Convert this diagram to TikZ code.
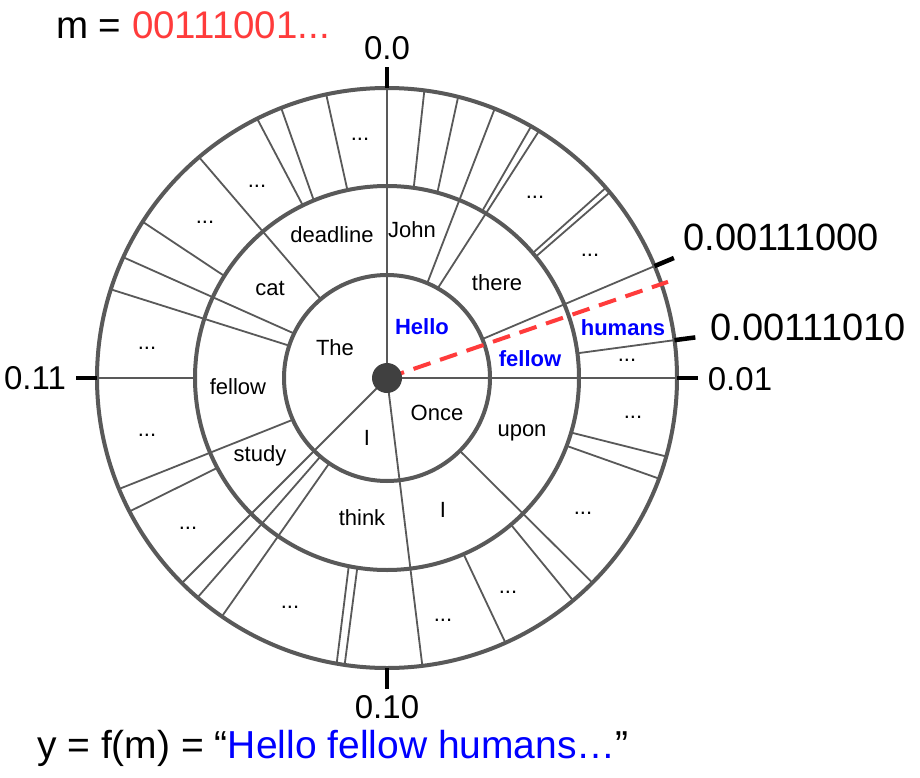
\documentclass[tikz,border=0pt]{standalone}
\usepackage{fontspec}
\setmainfont{Liberation Sans}
\definecolor{ringgray}{HTML}{595959}
\definecolor{mred}{HTML}{FF3B3B}
\definecolor{dotgray}{HTML}{404040}
\begin{document}
\begin{tikzpicture}[x=1pt,y=1pt,
  ring/.style={draw=ringgray,line width=4pt},
  spoke/.style={draw=ringgray,line width=1.8pt},
  tickmark/.style={draw=black,line width=4.5pt},
  lbl/.style={font=\fontsize{22}{25}\selectfont,inner sep=0pt},
  hl/.style={font=\fontsize{22}{25}\selectfont\bfseries,text=blue,inner sep=0pt},
  dotlbl/.style={font=\fontsize{22}{25}\selectfont,inner sep=0pt,anchor=base},
  ticklbl/.style={font=\fontsize{33}{38}\selectfont,inner sep=0pt},
  longlbl/.style={font=\fontsize{38}{42}\selectfont,inner sep=0pt},
]
\useasboundingbox (0,0) rectangle (920,-778);
\fill[white] (0,0) rectangle (920,-778);
\begin{scope}[shift={(387,-378)}]
  \coordinate (C) at (0,0);
  % spokes from the centre
  \foreach \a in {90,0,225,277} \draw[spoke] (C) -- (\a:290);
  % spokes from inner circle to outer circle: inner angle / outer angle
  \foreach \a/\b in {22.2/22.7,60.5/58.4,67/68.2,130/130.4,154.4/155.4,161.7/162.2,203.9/202.5,229.7/229.2,235.9/235.3,315/315.1}
    \draw[spoke] (\a:103) -- (\b:290);
  % spokes of the outer ring only
  \foreach \a/\b in {7.4/7.5,39.2/39.8,40.6/41,60.3/60.2,74.8/75.8,82/82.6,101.9/102.1,112.4/111.4,116/116.6,147.9/147.4,180/180,207.9/207.4,258.5/260,261.1/261.6,293.5/294.1,310.2/309.9,339.3/339.7,343.5/344.3}
    \draw[spoke] (\a:192) -- (\b:290);
  % rings
  \draw[ring] (C) circle[radius=103];
  \draw[ring] (C) circle[radius=192];
  \draw[ring] (C) circle[radius=290];
  % ticks
  \foreach \a in {90,0,180,270,22.7,7.5} \draw[tickmark] (\a:290) -- (\a:311);
  % red dashed line
  \coordinate (R) at (18.9:297);
  \draw[mred,line width=4pt,dash pattern=on 18pt off 10pt] (C) -- (R);
  \fill[dotgray] (C) circle[radius=15];
\end{scope}
% inner ring labels
\node[hl]  (hello)  at (422,-327) {Hello};
\node[lbl] (the)    at (335,-348) {The};
\node[lbl] (i1)     at (367,-438) {I};
\node[lbl] (once)   at (437,-413) {Once};
% middle ring labels
\node[lbl] (john)   at (412,-230) {John};
\node[lbl] (there)  at (497,-283) {there};
\node[hl]  (fellowb) at (530,-359) {fellow};
\node[lbl] (deadline) at (332,-235) {deadline};
\node[lbl] (cat)    at (270,-288) {cat};
\node[lbl] (fellow) at (238,-387) {fellow};
\node[lbl] (study)  at (260,-456) {study};
\node[lbl] (think)  at (362,-518) {think};
\node[lbl] (i2)     at (443,-510) {I};
\node[lbl] (upon)   at (522,-433) {upon};
% outer ring labels
\node[hl]  (humans) at (623,-328) {humans};
\foreach \x/\y [count=\i] in {360/140,257/187,205/222,147/348,147/435,188/528,290/607,443/620,508/592,583/513,633/417,627/360,590/255,535/197}
  \node[dotlbl] (d\i) at (\x,-\y-1) {...};
% scale labels
\node[ticklbl] (t0)  at (387,-48) {0.0};
\node[ticklbl] (t11) at (35,-378) {0.11};
\node[ticklbl] (t01) at (740,-379) {0.01};
\node[ticklbl] (t10) at (387,-707) {0.10};
\node[longlbl] (ta)  at (781,-237) {0.00111000};
\node[longlbl] (tb)  at (808,-327) {0.00111010};
% message and output
\node[ticklbl,font=\fontsize{38.5}{42}\selectfont] (m) at (193,-25) {m = \textcolor{mred}{00111001...}};
\node[ticklbl,font=\fontsize{39}{43}\selectfont] (y) at (333,-748) {y = f(m) = “\textcolor{blue}{Hello fellow humans…}”};
\end{tikzpicture}
\end{document}
